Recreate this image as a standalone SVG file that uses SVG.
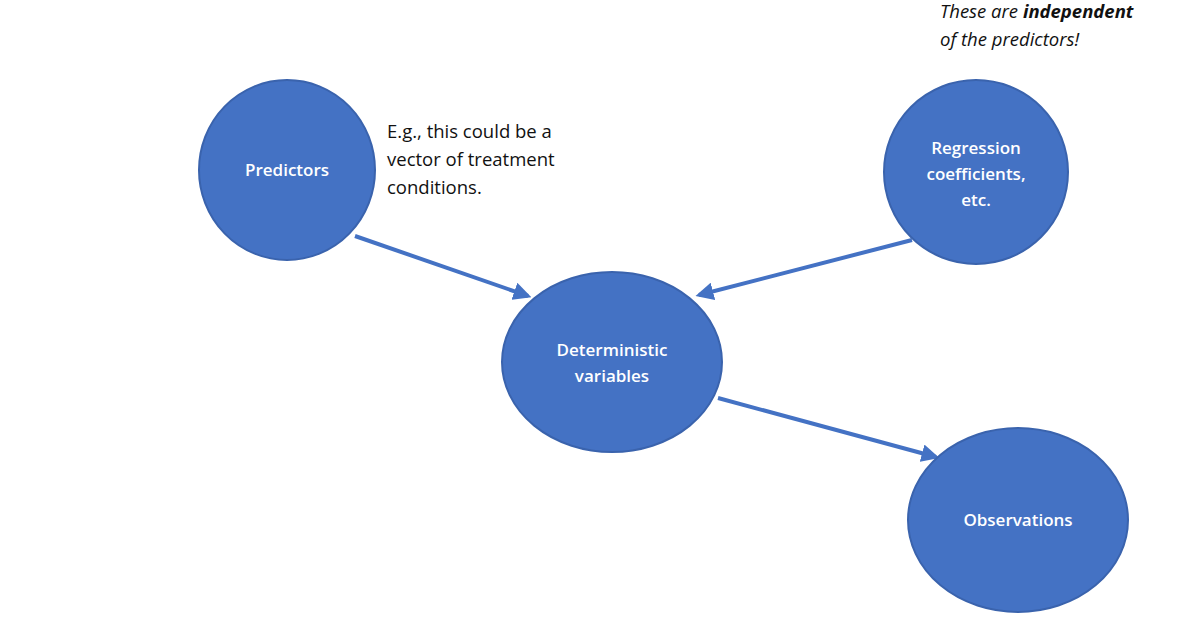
<svg xmlns="http://www.w3.org/2000/svg" width="1196" height="628" viewBox="0 0 1196 628">
<style>
.n{fill:#4472C4;stroke:#3A63AD;stroke-width:2}
.t{fill:#fff;font-family:"Open Sans","Liberation Sans",sans-serif;font-size:17px;font-weight:600;text-anchor:middle}
.a{font-family:"Open Sans","Liberation Sans",sans-serif;font-size:18.5px;fill:#111}
.c{stroke:#4472C4;stroke-width:4;fill:none;marker-end:url(#h)}
</style>
<defs><marker id="h" viewBox="0 0 10 10" refX="8" refY="5" markerWidth="4.5" markerHeight="4.5" orient="auto"><path d="M0,0L10,5L0,10z" fill="#4472C4"/></marker></defs>
<rect width="1196" height="628" fill="#fff"/>
<g id="connectors">
<line class="c" x1="355" y1="236" x2="528" y2="296"/>
<line class="c" x1="912" y1="240" x2="699" y2="295"/>
<line class="c" x1="718" y1="398" x2="936" y2="457"/>
</g>
<g id="predictors"><ellipse class="n" cx="287" cy="170" rx="88" ry="90"/><text class="t" x="287" y="176">Predictors</text></g>
<g id="regression"><ellipse class="n" cx="976" cy="172" rx="92" ry="92"/><text class="t" x="976" y="154">Regression</text><text class="t" x="976" y="180">coefficients,</text><text class="t" x="976" y="206">etc.</text></g>
<g id="deterministic"><ellipse class="n" cx="612" cy="362" rx="110" ry="90"/><text class="t" x="612" y="356">Deterministic</text><text class="t" x="612" y="382">variables</text></g>
<g id="observations"><ellipse class="n" cx="1018" cy="520" rx="110" ry="92"/><text class="t" x="1018" y="526">Observations</text></g>
<g id="note1"><text class="a" x="387" y="138">E.g., this could be a</text><text class="a" x="387" y="166">vector of treatment</text><text class="a" x="387" y="194">conditions.</text></g>
<g id="note2" font-style="italic"><text class="a" x="940" y="18">These are <tspan font-weight="bold">independent</tspan></text><text class="a" x="940" y="46">of the predictors!</text></g>
</svg>
